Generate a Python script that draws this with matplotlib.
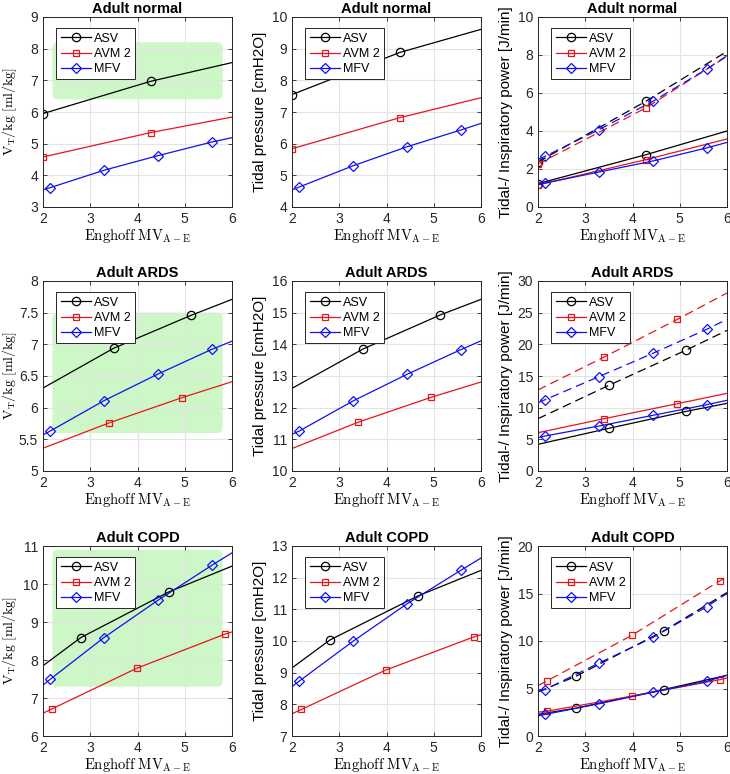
import numpy as np
import matplotlib
matplotlib.use("Agg")
import matplotlib.pyplot as plt
from matplotlib.ticker import FormatStrFormatter
from matplotlib.patches import FancyBboxPatch

plt.rcParams['font.family'] = ['Liberation Sans', 'DejaVu Sans']
plt.rcParams['mathtext.fontset'] = 'cm'

# marker positions along the x axis (Enghoff MV_A-E)
mfv_x = [2.0, 2.15, 3.29, 4.43, 5.57, 6.0]
mfv_mx = [2.15, 3.29, 4.43, 5.57]

# ---- Adult normal
n_asv_x = [2.0, 4.28, 6.0]
n_asv_mx = [2.0, 4.28]
n_asv_vt = [5.95, 6.97, 7.56]
n_asv_p = [7.55, 8.88, 9.61]
n_asv_tp = [1.23, 2.75, 4.00]
n_asv_ip = [2.37, 5.56, 8.19]

n_avm_x = [2.0, 4.28, 6.0]
n_avm_mx = [2.0, 4.28]
n_avm_vt = [4.58, 5.35, 5.84]
n_avm_p = [5.84, 6.82, 7.45]
n_avm_tp = [1.16, 2.49, 3.58]
n_avm_ip = [2.26, 5.21, 7.93]

n_mfv_vt = [3.55, 3.61, 4.16, 4.62, 5.05, 5.19]
n_mfv_p = [4.54, 4.63, 5.30, 5.90, 6.43, 6.64]
n_mfv_tp = [1.18, 1.26, 1.84, 2.42, 3.11, 3.40]
n_mfv_ip = [2.50, 2.67, 4.07, 5.56, 7.26, 7.96]

# ---- Adult ARDS
a_asv_x = [2.0, 3.5, 5.14, 6.0]
a_asv_mx = [3.5, 5.14]
a_asv_vt = [6.31, 6.94, 7.46, 7.71]
a_asv_p = [12.61, 13.85, 14.93, 15.42]
a_asv_tp = [4.21, 6.74, 9.42, 10.68]
a_asv_ip = [8.26, 13.53, 19.10, 22.20]

a_avm_x = [2.0, 3.4, 4.95, 6.0]
a_avm_mx = [3.4, 4.95]
a_avm_vt = [5.36, 5.76, 6.16, 6.41]
a_avm_p = [10.71, 11.54, 12.33, 12.81]
a_avm_tp = [6.05, 8.26, 10.63, 12.26]
a_avm_ip = [12.79, 18.00, 23.95, 28.10]

a_mfv_vt = [5.57, 5.63, 6.11, 6.53, 6.92, 7.05]
a_mfv_p = [11.16, 11.26, 12.21, 13.05, 13.83, 14.11]
a_mfv_tp = [5.26, 5.53, 7.10, 8.79, 10.47, 11.16]
a_mfv_ip = [10.79, 11.26, 14.90, 18.58, 22.37, 23.95]

# ---- Adult COPD
c_asv_x = [2.0, 2.8, 4.66, 6.0]
c_asv_mx = [2.8, 4.66]
c_asv_vt = [7.85, 8.59, 9.79, 10.47]
c_asv_p = [9.15, 10.03, 11.42, 12.23]
c_asv_tp = [2.27, 2.93, 4.89, 6.39]
c_asv_ip = [4.65, 6.28, 11.06, 15.10]

c_avm_x = [2.0, 2.2, 3.98, 5.85, 6.0]
c_avm_mx = [2.2, 3.98, 5.85]
c_avm_vt = [6.60, 6.72, 7.78, 8.68, 8.74]
c_avm_p = [7.70, 7.84, 9.08, 10.13, 10.20]
c_avm_tp = [2.51, 2.62, 4.19, 5.93, 6.11]
c_avm_ip = [5.30, 5.83, 10.58, 16.34, 16.75]

c_mfv_vt = [7.34, 7.49, 8.59, 9.57, 10.49, 10.82]
c_mfv_p = [8.56, 8.73, 9.99, 11.17, 12.23, 12.62]
c_mfv_tp = [2.12, 2.27, 3.39, 4.61, 5.76, 6.39]
c_mfv_ip = [4.71, 4.89, 7.68, 10.37, 13.61, 15.00]

titles = ["Adult normal", "Adult ARDS", "Adult COPD"]
# green region: x0, x1, y0, y1
green_n = [2.2, 5.8, 6.4, 8.2]
green_a = [2.2, 5.8, 5.6, 7.5]
green_c = [2.2, 5.8, 7.3, 10.9]

ylim_vt = [(3, 9, 1), (5, 8, 0.5), (6, 11, 1)]
ylim_p = [(4, 10, 1), (10, 16, 1), (7, 13, 1)]
ylim_pw = [(0, 10, 2), (0, 30, 5), (0, 20, 5)]

W, H = 730, 774
fig = plt.figure(figsize=(W / 100, H / 100), dpi=100)

lefts = [43, 292, 538]
tops = [17, 281, 546]
aw, ah = 189, 190
ylab_x = [-0.128, -0.13, -0.13]

xlab = r'$\mathrm{Enghoff\ MV_{A-E}}$'
ylab_vt = r'$\mathrm{V_T/kg\ [ml/kg]}$'

RED = '#e8141c'
BLUE = '#1010f0'
DASH = (0, (7, 4))


def mk(xs, mx):
    return [i for i, v in enumerate(xs) if v in mx]


def style(ax, lim):
    lo, hi, st = lim
    ax.set_xlim(2, 6)
    ax.set_ylim(lo, hi)
    ax.set_xticks([2, 3, 4, 5, 6])
    ax.set_yticks(np.arange(lo, hi + st / 2, st))
    ax.yaxis.set_major_formatter(FormatStrFormatter('%g'))
    ax.grid(True, color='#e3e3e3', lw=0.8)
    ax.set_axisbelow(True)
    ax.tick_params(direction='in', top=True, right=True, length=3,
                   labelsize=10, colors='#262626', width=0.6, pad=3.5)
    for s in ax.spines.values():
        s.set_color('#262626')
        s.set_linewidth(0.7)
    ax.set_xlabel(xlab, fontsize=10.5, labelpad=1)


def legend(ax):
    leg = ax.legend(loc='upper left', bbox_to_anchor=(0.07, 0.94), borderaxespad=0,
                    fontsize=9, handlelength=2.4, handletextpad=0.3,
                    labelspacing=0.25, borderpad=0.35, fancybox=False,
                    framealpha=1, edgecolor='#262626')
    leg.get_frame().set_linewidth(0.7)


def green(ax, g):
    x0, x1, y0, y1 = g
    ylo, yhi = ax.get_ylim()
    asp = (yhi - ylo) / 4.0
    r = 0.12
    ax.add_patch(FancyBboxPatch((x0 + r, y0 + r * asp), x1 - x0 - 2 * r,
                                y1 - y0 - 2 * r * asp,
                                boxstyle='round,pad=%g' % r, mutation_aspect=asp,
                                fc='#cdf7c6', ec='none', zorder=0.5))


def three(ax, sx, smx, sy, vx, vmx, vy, my, ls='-', label=True):
    ax.plot(sx, sy, color='k', lw=0.9, ls=ls, marker='o', ms=6, mfc='none',
            mew=0.9, markevery=mk(sx, smx), label='ASV' if label else None)
    ax.plot(vx, vy, color=RED, lw=0.9, ls=ls, marker='s', ms=5, mfc='none',
            mew=0.9, markevery=mk(vx, vmx), label='AVM 2' if label else None)
    ax.plot(mfv_x, my, color=BLUE, lw=0.9, ls=ls, marker='D', ms=5.5, mfc='none',
            mew=0.9, markevery=mk(mfv_x, mfv_mx), label='MFV' if label else None)


rows = [
    (n_asv_x, n_asv_mx, n_asv_vt, n_asv_p, n_asv_tp, n_asv_ip,
     n_avm_x, n_avm_mx, n_avm_vt, n_avm_p, n_avm_tp, n_avm_ip,
     n_mfv_vt, n_mfv_p, n_mfv_tp, n_mfv_ip, green_n),
    (a_asv_x, a_asv_mx, a_asv_vt, a_asv_p, a_asv_tp, a_asv_ip,
     a_avm_x, a_avm_mx, a_avm_vt, a_avm_p, a_avm_tp, a_avm_ip,
     a_mfv_vt, a_mfv_p, a_mfv_tp, a_mfv_ip, green_a),
    (c_asv_x, c_asv_mx, c_asv_vt, c_asv_p, c_asv_tp, c_asv_ip,
     c_avm_x, c_avm_mx, c_avm_vt, c_avm_p, c_avm_tp, c_avm_ip,
     c_mfv_vt, c_mfv_p, c_mfv_tp, c_mfv_ip, green_c),
]

for r, row in enumerate(rows):
    (sx, smx, svt, sp, stp, sip, vx, vmx, vvt, vp, vtp, vip,
     mvt, mp, mtp, mip, g) = row
    axs = []
    for c in range(3):
        ax = fig.add_axes([lefts[c] / W, 1 - (tops[r] + ah) / H, aw / W, ah / H])
        ax.set_title(titles[r], fontsize=10.5, fontweight='bold', pad=3)
        axs.append(ax)

    # V_T/kg
    ax = axs[0]
    style(ax, ylim_vt[r])
    green(ax, g)
    three(ax, sx, smx, svt, vx, vmx, vvt, mvt)
    ax.set_ylabel(ylab_vt, fontsize=10)
    legend(ax)

    # tidal pressure
    ax = axs[1]
    style(ax, ylim_p[r])
    three(ax, sx, smx, sp, vx, vmx, vp, mp)
    ax.set_ylabel('Tidal pressure [cmH2O]', fontsize=11)
    legend(ax)

    # tidal (solid) and inspiratory (dashed) power
    ax = axs[2]
    style(ax, ylim_pw[r])
    three(ax, sx, smx, stp, vx, vmx, vtp, mtp)
    three(ax, sx, smx, sip, vx, vmx, vip, mip, ls=DASH, label=False)
    ax.set_ylabel('Tidal-/ Inspiratory power [J/min]', fontsize=11)
    legend(ax)

    for c in range(3):
        axs[c].yaxis.set_label_coords(ylab_x[c], 0.5)

fig.savefig('out.png', dpi=100)
